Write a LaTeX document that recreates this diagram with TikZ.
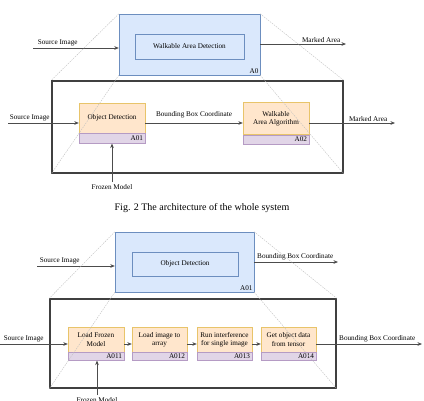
\documentclass[tikz,border=0pt]{standalone}
\usepackage{fontspec}
\setmainfont{Liberation Serif}
\usetikzlibrary{positioning,arrows.meta}
\definecolor{boxblue}{HTML}{DAE8FC}
\definecolor{lineblue}{HTML}{6C8EBF}
\definecolor{boxorange}{HTML}{FFE6CC}
\definecolor{lineorange}{HTML}{E8C46A}
\definecolor{boxpurple}{HTML}{E1D5E7}
\definecolor{linepurple}{HTML}{B59BC4}
\begin{document}
\begin{tikzpicture}[x=1pt,y=-1pt,>={Stealth[length=4.5pt,width=3.6pt]},
    every node/.style={font=\fontsize{7.2}{8.4}\selectfont},
    parent/.style={draw=lineblue,fill=boxblue,inner sep=0pt},
    inner/.style={draw=lineblue,inner sep=0pt},
    func/.style={draw=lineorange,fill=boxorange,align=center,inner sep=1pt},
    tag/.style={draw=linepurple,fill=boxpurple,align=right,inner xsep=2pt,inner ysep=0.5pt},
    frame/.style={draw=black!75,line width=1.4pt,inner sep=0pt},
    guide/.style={draw=black!25,dash pattern=on 1.5pt off 1pt,line width=0.4pt},
    flow/.style={->,draw=black!70,line width=0.6pt},
  ]
  \useasboundingbox (0,0) rectangle (424,400);
  % A0 (whole system)
  \node[parent,minimum width=141pt,minimum height=61pt] (A0) at (189.5,44.5) {};
  \node[inner,minimum width=109pt,minimum height=25pt] (A0in) at (189.5,46.5) {Walkable Area Detection};
  \node[anchor=south east,inner sep=1.5pt] (A0id) at (A0.south east) {A0};
  \coordinate (A0src) at (33,48);
  \draw[flow] (A0src) -- (A0src -| A0.west) node[pos=0,above right,xshift=3pt,inner sep=1.5pt] (A0srclbl) {Source Image};
  \coordinate (A0out) at (346,44);
  \draw[flow] (A0out -| A0.east) -- (A0out) node[pos=1,above left,xshift=-4pt,inner sep=1.5pt] (A0outlbl) {Marked Area};
  % decomposition of A0
  \node[frame,minimum width=291pt,minimum height=92pt] (F1) at (197.5,127) {};
  \node[func,minimum width=66pt,minimum height=30pt] (od) at (112,118) {Object Detection};
  \node[tag,minimum width=66pt,text width=62pt,minimum height=10pt,below=0pt of od] (odid) {A01};
  \node[func,minimum width=66pt,minimum height=32pt] (waa) at (276,118.5) {Walkable\\Area Algorithm};
  \node[tag,minimum width=66pt,text width=62pt,minimum height=9pt,below=0pt of waa] (waaid) {A02};
  \coordinate (odsrc) at (8,123);
  \draw[flow] (odsrc) -- (odsrc -| od.west) node[pos=0,above right,inner sep=1.5pt] (odsrclbl) {Source Image};
  \draw[flow] (odsrc -| od.east) -- (odsrc -| waa.west) node[midway,above=1.5pt] (bbclbl) {Bounding Box Coordinate};
  \coordinate (waaout) at (395,123);
  \draw[flow] (waaout -| waa.east) -- (waaout) node[pos=1,above left,xshift=-6pt,inner sep=1.5pt] (waaoutlbl) {Marked Area};
  \coordinate (fm) at (112,182);
  \draw[flow] (fm) -- (odid.south);
  \node[below,inner sep=2pt] (fmlbl) at (fm) {Frozen Model};
  \draw[guide] (A0.north west) -- (F1.north west);
  \draw[guide] (A0.south west) -- (F1.south west);
  \draw[guide] (A0.north east) -- (F1.north east);
  \draw[guide] (A0.south east) -- (F1.south east);
  % caption
  \node[font=\fontsize{10}{12}\selectfont] (cap) at (202,208) {Fig. 2 The architecture of the whole system};
  % A01 (object detection)
  \node[parent,minimum width=139pt,minimum height=60pt] (A01) at (184.5,262) {};
  \node[inner,minimum width=106pt,minimum height=24pt] (A01in) at (185,264) {Object Detection};
  \node[anchor=south east,inner sep=1.5pt] (A01id) at (A01.south east) {A01};
  \coordinate (A01src) at (37,266);
  \draw[flow] (A01src) -- (A01src -| A01.west) node[pos=0,above right,xshift=1pt,inner sep=1.5pt] (A01srclbl) {Source Image};
  \coordinate (A01out) at (338,262);
  \draw[flow] (A01out -| A01.east) -- (A01out) node[pos=1,above left,xshift=-3pt,inner sep=1.5pt] (A01outlbl) {Bounding Box Coordinate};
  % decomposition of A01
  \node[frame,minimum width=286pt,minimum height=89pt] (F2) at (193,343.5) {};
  \node[func,minimum width=56pt,minimum height=25pt] (lfm) at (96,339.5) {Load Frozen\\Model};
  \node[tag,minimum width=56pt,text width=52pt,minimum height=8pt,below=0pt of lfm] (lfmid) {A011};
  \node[func,minimum width=55pt,minimum height=25pt] (lia) at (159.5,339.5) {Load image to\\array};
  \node[tag,minimum width=55pt,text width=51pt,minimum height=8pt,below=0pt of lia] (liaid) {A012};
  \node[func,minimum width=55pt,minimum height=25pt] (rsi) at (224.5,339.5) {Run interference\\for single image};
  \node[tag,minimum width=55pt,text width=51pt,minimum height=8pt,below=0pt of rsi] (rsiid) {A013};
  \node[func,minimum width=55pt,minimum height=25pt] (god) at (288.5,339.5) {Get object data\\from tensor};
  \node[tag,minimum width=55pt,text width=51pt,minimum height=8pt,below=0pt of god] (godid) {A014};
  \coordinate (F2row) at (0,344);
  \draw[flow] (F2row) -- (F2row -| lfm.west) node[pos=0,above right,xshift=2pt,inner sep=1.5pt] (F2srclbl) {Source Image};
  \draw[flow] (F2row -| lfm.east) -- (F2row -| lia.west);
  \draw[flow] (F2row -| lia.east) -- (F2row -| rsi.west);
  \draw[flow] (F2row -| rsi.east) -- (F2row -| god.west);
  \coordinate (F2out) at (422,344);
  \draw[flow] (F2row -| god.east) -- (F2out) node[pos=1,above left,xshift=-5pt,inner sep=1.5pt] (F2outlbl) {Bounding Box Coordinate};
  \coordinate (fm2) at (97,395);
  \draw[flow] (fm2) -- (fm2 |- lfmid.south);
  \node[below,inner sep=2pt] (fm2lbl) at (fm2) {Frozen Model};
  \draw[guide] (A01.north west) -- (F2.north west);
  \draw[guide] (A01.south west) -- (F2.south west);
  \draw[guide] (A01.north east) -- (F2.north east);
  \draw[guide] (A01.south east) -- (F2.south east);
\end{tikzpicture}
\end{document}
